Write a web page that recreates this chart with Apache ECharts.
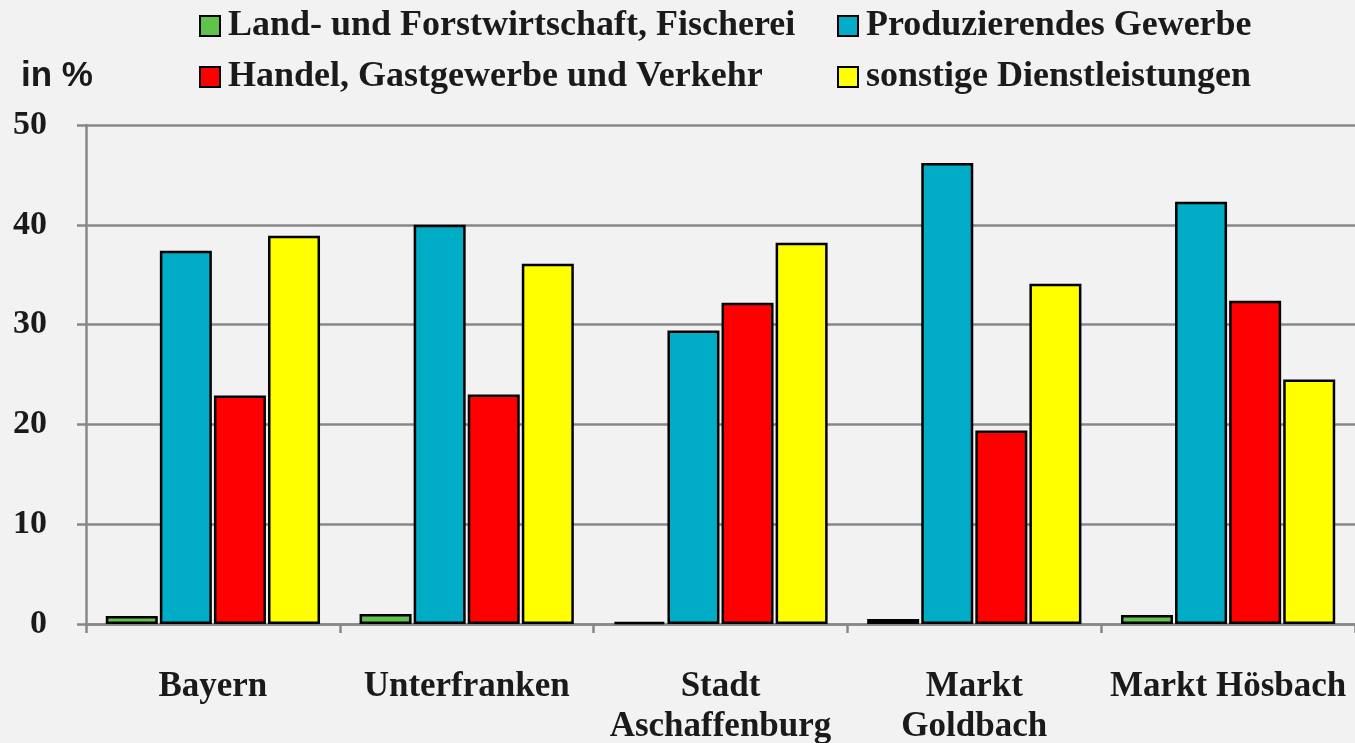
<!DOCTYPE html>
<html>
<head>
<meta charset="utf-8">
<script src="https://cdn.jsdelivr.net/npm/echarts@6/dist/echarts.min.js"></script>
<style>
  html, body { margin: 0; padding: 0; background: #f2f2f2; }
  #myChart { width: 1355px; height: 743px; }
</style>
</head>
<body>
<div id="myChart"></div>
<script>
// Regionen
const categories = ["Bayern", "Unterfranken", "Stadt\nAschaffenburg", "Markt\nGoldbach", "Markt Hösbach"];
// Anteile in %
const landForst = [0.8, 1.0, 0.2, 0.5, 0.9];
const produzierend = [37.4, 40.0, 29.4, 46.2, 42.3];
const handel = [22.9, 23.0, 32.2, 19.4, 32.4];
const sonstige = [38.9, 36.1, 38.2, 34.1, 24.5];
const yTicks = [0, 10, 20, 30, 40, 50];

const serif = '"Liberation Serif", "Times New Roman", serif';
const names = [
  "Land- und Forstwirtschaft, Fischerei",
  "Produzierendes Gewerbe",
  "Handel, Gastgewerbe und Verkehr",
  "sonstige Dienstleistungen"
];
const colors = ["#5ec44a", "#00acc6", "#ff0000", "#ffff00"];
const values = [landForst, produzierend, handel, sonstige];

function legendAt(name, left, top) {
  return {
    data: [name],
    left: left,
    top: top,
    orient: "horizontal",
    padding: 0,
    icon: "rect",
    itemWidth: 20,
    itemHeight: 20,
    itemGap: 0,
    selectedMode: false,
    textStyle: { fontFamily: serif, fontWeight: "bold", fontSize: 36, color: "#1a1a1a", padding: [0, 0, 0, 3] }
  };
}

let myChart = echarts.init(document.getElementById("myChart"));
let option = {
  backgroundColor: "#f2f2f2",
  animation: false,
  title: {
    text: "in %",
    left: 21,
    top: 59,
    padding: 0,
    textStyle: { fontFamily: '"Liberation Sans", Arial, sans-serif', fontWeight: "bold", fontSize: 35, color: "#1a1a1a" }
  },
  legend: [
    legendAt(names[0], 199, 8),
    legendAt(names[1], 837, 8),
    legendAt(names[2], 199, 59),
    legendAt(names[3], 837, 59)
  ],
  grid: { left: 86, right: 0, top: 125, bottom: 119, containLabel: false, outerBoundsMode: "none" },
  xAxis: {
    type: "category",
    data: categories,
    axisLine: { lineStyle: { color: "#888", width: 2.5 } },
    axisTick: { show: true, length: 9, lineStyle: { color: "#888", width: 2.5 } },
    axisLabel: {
      interval: 0,
      margin: 43,
      fontFamily: serif,
      fontWeight: "bold",
      fontSize: 35,
      lineHeight: 40,
      color: "#1a1a1a"
    }
  },
  yAxis: {
    type: "value",
    min: yTicks[0],
    max: yTicks[yTicks.length - 1],
    interval: 10,
    axisLine: { show: true, lineStyle: { color: "#888", width: 2.5 } },
    axisTick: { show: true, length: 9, lineStyle: { color: "#888", width: 2.5 } },
    splitLine: { lineStyle: { color: "#888", width: 2.5 } },
    axisLabel: {
      margin: 39,
      fontFamily: serif,
      fontWeight: "bold",
      fontSize: 34,
      color: "#1a1a1a"
    }
  },
  series: names.map((n, i) => ({
    name: n,
    type: "bar",
    data: values[i],
    barWidth: 52,
    barGap: "4%",
    itemStyle: { color: colors[i], borderColor: "#000", borderWidth: 2.5 }
  }))
};
myChart.setOption(option);
</script>
</body>
</html>
